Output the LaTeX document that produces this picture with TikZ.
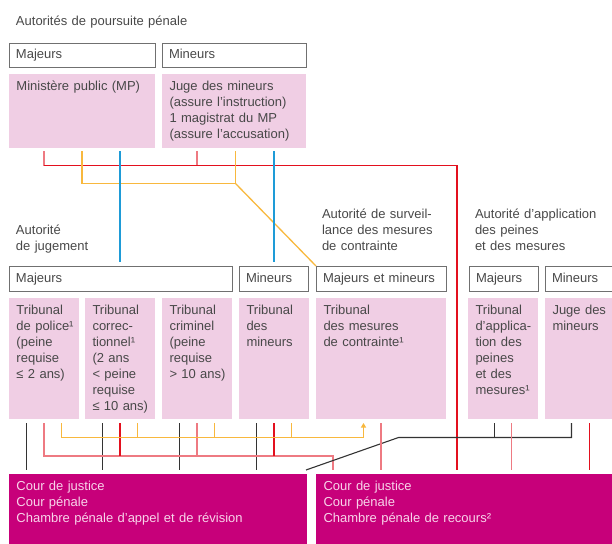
\documentclass[tikz,border=0pt]{standalone}
\usepackage{fontspec}
\setmainfont{Liberation Sans}
\usetikzlibrary{positioning, calc, arrows.meta}

\definecolor{rosef}{RGB}{240,206,228}
\definecolor{magf}{RGB}{199,0,122}
\definecolor{courtxt}{RGB}{248,212,234}
\definecolor{txt}{RGB}{72,72,72}
\definecolor{bordgris}{RGB}{112,112,112}
\definecolor{rougeA}{HTML}{E3101E}
\definecolor{rougeB}{HTML}{EE7A82}
\definecolor{jauneA}{HTML}{F8B83E}
\definecolor{bleuA}{HTML}{1E9BD7}
\definecolor{noirA}{HTML}{333333}

\tikzset{
    lbl/.style={anchor=base west, inner sep=0pt, outer sep=0pt, text width=200pt, text=txt,
        execute at begin node={\hyphenpenalty=10000}},
    tete/.style={draw=bordgris, line width=0.9pt, anchor=north west, outer sep=0pt,
        inner xsep=0pt, inner ysep=6pt, text height=9.5pt, text depth=2.5pt, text=txt,
        execute at begin node={\leftskip=7pt\hyphenpenalty=10000}},
    inst/.style={fill=rosef, anchor=north west, outer sep=0pt,
        inner xsep=0pt, inner ysep=7pt, text height=9.3pt, text=txt,
        execute at begin node={\leftskip=7.5pt\hyphenpenalty=10000}},
    cour/.style={inst, fill=magf, text=courtxt},
    lrouge/.style={draw=rougeA, line width=1.2pt},
    lrose/.style={draw=rougeB, line width=1.4pt},
    ljaune/.style={draw=jauneA, line width=1.3pt},
    lbleu/.style={draw=bleuA, line width=1.2pt},
    lnoir/.style={draw=noirA, line width=1.1pt}
}

\begin{document}
\begin{tikzpicture}[x=1pt, y=1pt, font=\fontsize{13pt}{16pt}\selectfont]
        \useasboundingbox (0,0) rectangle (612,-543);

        % poursuite
        \node[lbl] (titre) at (16,-26) {Autorités de poursuite pénale};
        \node[tete, text width=146pt] (maj1) at (9,-43) {Majeurs};
        \node[tete, text width=144pt, right=7pt of maj1] (min1) {Mineurs};
        \node[inst, text width=146pt, text depth=50.7pt] (mp) at (9,-74) {Ministère public (MP)};
        \node[inst, text width=144pt, text depth=50.7pt, right=7pt of mp] (jm)
            {Juge des mineurs\\(assure l’instruction)\\1 magistrat du MP\\(assure l’accusation)};

        % autorites
        \node[lbl] (ajug) at (16,-234) {Autorité\\de jugement};
        \node[lbl] (asurv) at (322,-218) {Autorité de surveil-\\lance des mesures\\de contrainte};
        \node[lbl] (aapp) at (475,-218) {Autorité d’application\\des peines\\et des mesures};

        \node[tete, inner ysep=6.5pt, text width=223pt] (maj2) at (9,-266) {Majeurs};
        \node[tete, inner ysep=6.5pt, text width=69pt, right=7pt of maj2] (min2) {Mineurs};
        \node[tete, inner ysep=6.5pt, text width=130pt, right=8pt of min2] (majmin) {Majeurs et mineurs};
        \node[tete, inner ysep=6.5pt, text width=69pt, right=23pt of majmin] (maj3) {Majeurs};
        \node[tete, inner ysep=6.5pt, text width=75pt, right=7pt of maj3] (min3) {Mineurs};

        \node[inst, text width=70pt, text depth=97.7pt] (tpol) at (9,-298)
            {Tribunal\\de police¹\\(peine\\requise\\≤ 2 ans)};
        \node[inst, text width=70pt, text depth=97.7pt, right=6pt of tpol] (tcor)
            {Tribunal\\correc-\\tionnel¹\\(2 ans\\< peine\\requise\\≤ 10 ans)};
        \node[inst, text width=70pt, text depth=97.7pt, right=7pt of tcor] (tcrim)
            {Tribunal\\criminel\\(peine\\requise\\> 10 ans)};
        \node[inst, text width=70pt, text depth=97.7pt, right=7pt of tcrim] (tmin)
            {Tribunal\\des\\mineurs};
        \node[inst, text width=130pt, text depth=97.7pt, right=7pt of tmin] (tmc)
            {Tribunal\\des mesures\\de contrainte¹};
        \node[inst, text width=70pt, text depth=97.7pt, right=22pt of tmc] (tapm)
            {Tribunal\\d’applica-\\tion des\\peines\\et des\\mesures¹};
        \node[inst, text width=70pt, text depth=97.7pt, right=7pt of tapm] (jmin)
            {Juge des\\mineurs};

        % recours
        \node[cour, text width=298pt, text depth=48.7pt] (cour1) at (9,-474)
            {Cour de justice\\Cour pénale\\Chambre pénale d’appel et de révision};
        \node[cour, text width=300pt, text depth=48.7pt, right=9pt of cour1] (cour2)
            {Cour de justice\\Cour pénale\\Chambre pénale de recours²};

        \coordinate (g1) at ($(tpol.east)!.5!(tcor.west)$);
        \coordinate (g3) at ($(tcrim.east)!.5!(tmin.west)$);
        \coordinate (g5) at ($(tmc.east)!.5!(tapm.west)$);

        % lignes du haut
        \draw[lrose] (mp.south -| tpol) ++(0,-3) -- ++(0,-14.5);
        \draw[lrose] (jm.south -| tcrim) ++(0,-3) -- ++(0,-14.5);
        \draw[lrouge, shorten >=4pt] (mp.south -| tpol) ++(0,-17.5) -| (cour2.north -| g5);

        \draw[ljaune, shorten >=3pt] (mp.south -| g1) ++(0,-3) -- ++(0,-32.5) -| (jm.south -| g3);
        \draw[ljaune] (jm.south -| g3) ++(0,-35.5) -- (majmin.north west);

        \draw[lbleu, shorten <=3pt, shorten >=4pt] (mp.south -| tcor) -- (maj2.north -| tcor);
        \draw[lbleu, shorten <=3pt, shorten >=4pt] (jm.south -| tmin) -- (min2.north -| tmin);

        % lignes du bas
        \foreach \t in {tpol,tcor,tcrim,tmin}
        \draw[lnoir] (\t.south) ++(-17.5,-4) -- ++(0,-47);

        \draw[lrose, shorten >=4pt] (tpol.south) ++(0,-4) -- ++(0,-33) -| ([xshift=17pt]cour2.north west);
        \foreach \t in {tcor,tmin}
        \draw[lrouge] (\t.south) ++(0,-4) -- ++(0,-33);
        \draw[lrose] (tcrim.south) ++(0,-4) -- ++(0,-33);

        \draw[ljaune, -{Triangle[width=5pt,length=4.5pt]}, shorten >=4pt]
            (tpol.south) ++(17.5,-4) -- ++(0,-14.5) -| ([xshift=-17.5pt]tmc.south);
        \foreach \t in {tcor,tcrim,tmin}
        \draw[ljaune] (\t.south) ++(17.5,-4) -- ++(0,-14.5);

        \draw[lnoir] (jmin.south) ++(-8.5,-4) |- ++(-173,-14.5) -- ([shift={(-1,4)}]cour1.north east);
        \draw[lnoir] (tapm.south) ++(-8.5,-4) -- ++(0,-14.5);

        \draw[lrose, shorten <=4pt, shorten >=4pt] (tmc.south) -- (tmc.south |- cour2.north);
        \draw[lrose] (tapm.south) ++(8.5,-4) -- ++(0,-47);
        \draw[lrouge] (jmin.south) ++(9.5,-4) -- ++(0,-47);

    \end{tikzpicture}
\end{document}
